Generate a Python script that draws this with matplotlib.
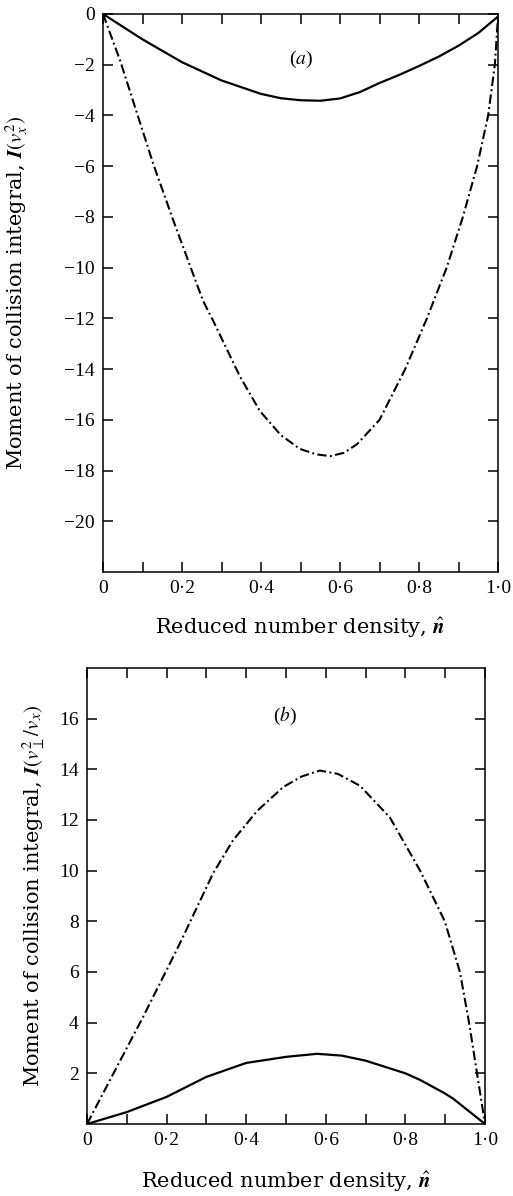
import matplotlib
matplotlib.use('Agg')
import matplotlib.pyplot as plt
from matplotlib.ticker import FixedLocator, FixedFormatter

plt.rcParams['font.family'] = ['Liberation Serif', 'DejaVu Serif']
plt.rcParams['mathtext.fontset'] = 'stix'

# (a) moment I(v_x^2) against reduced number density
a_solid_n = [0.0, 0.1, 0.2, 0.3, 0.4, 0.45, 0.5, 0.55, 0.6, 0.65, 0.7, 0.75, 0.8,
             0.85, 0.9, 0.95, 1.0]
a_solid = [0.0, -1.0, -1.9, -2.62, -3.15, -3.32, -3.4, -3.42, -3.33, -3.08, -2.72,
           -2.4, -2.05, -1.68, -1.25, -0.75, -0.1]
a_dash_n = [0.0, 0.043, 0.127, 0.178, 0.253, 0.279, 0.347, 0.397, 0.45, 0.499, 0.54,
            0.575, 0.61, 0.643, 0.70, 0.765, 0.82, 0.87, 0.911, 0.947, 0.975, 0.992, 1.0]
a_dash = [0.0, -1.82, -5.9, -8.14, -11.3, -12.1, -14.3, -15.65, -16.6, -17.15, -17.36,
          -17.43, -17.3, -16.96, -16.0, -14.0, -12.0, -10.0, -8.0, -6.0, -4.0, -2.0, -0.1]

# (b) moment I(v_perp^2 / v_x)
b_solid_n = [0.0, 0.1, 0.2, 0.3, 0.4, 0.5, 0.578, 0.64, 0.7, 0.8, 0.837, 0.9, 0.92, 1.0]
b_solid = [0.0, 0.47, 1.07, 1.86, 2.41, 2.65, 2.77, 2.7, 2.5, 2.0, 1.74, 1.2, 1.0, 0.0]
b_dash_n = [0.0, 0.058, 0.141, 0.209, 0.234, 0.317, 0.367, 0.427, 0.493, 0.54, 0.585,
            0.63, 0.686, 0.761, 0.837, 0.899, 0.937, 0.96, 0.98, 1.0]
b_dash = [0.0, 1.74, 4.23, 6.36, 7.15, 9.9, 11.2, 12.35, 13.3, 13.72, 13.95,
          13.82, 13.35, 12.1, 10.0, 8.0, 6.0, 4.0, 2.0, 0.0]

xticks = [0.0, 0.1, 0.2, 0.3, 0.4, 0.5, 0.6, 0.7, 0.8, 0.9, 1.0]
xlabels = ['0', '', '0·2', '', '0·4', '', '0·6', '', '0·8', '', '1·0']
a_yticks = [0, -2, -4, -6, -8, -10, -12, -14, -16, -18, -20]
a_ylabels = ['0', '−2', '−4', '−6', '−8', '−10', '−12', '−14', '−16', '−18', '−20']
b_yticks = [2, 4, 6, 8, 10, 12, 14, 16]
b_ylabels = ['2', '4', '6', '8', '10', '12', '14', '16']

dashdot = (0, (4.5, 1.6, 0.9, 1.6))
xlab = 'Reduced number density, $\\hat{\\boldsymbol{n}}$'

fig = plt.figure(figsize=(5.13, 11.96), dpi=100)
ax1 = fig.add_axes([0.2008, 0.5217, 0.770, 0.4666])
ax2 = fig.add_axes([0.1696, 0.0602, 0.7758, 0.3813])


def style(ax):
    for s in ax.spines.values():
        s.set_linewidth(1.1)
    ax.tick_params(direction='in', top=True, right=True, length=7, width=1.1,
                   labelsize=14, pad=6)
    ax.xaxis.set_major_locator(FixedLocator(xticks))
    ax.xaxis.set_major_formatter(FixedFormatter(xlabels))
    ax.set_xlim(0, 1.0)


ax1.plot(a_solid_n, a_solid, color='black', lw=1.6)
ax1.plot(a_dash_n, a_dash, color='black', lw=1.5, linestyle=dashdot)
style(ax1)
ax1.set_ylim(-22, 0)
ax1.yaxis.set_major_locator(FixedLocator(a_yticks))
ax1.yaxis.set_major_formatter(FixedFormatter(a_ylabels))
ax1.set_xlabel(xlab, fontsize=15, family='DejaVu Serif')
ax1.set_ylabel('Moment of collision integral, $\\boldsymbol{I}(v_x^2)$', fontsize=15,
               family='DejaVu Serif')
ax1.xaxis.set_label_coords(0.5, -0.079)
ax1.yaxis.set_label_coords(-0.185, 0.5)
ax1.text(0.5, -1.8, '($a$)', fontsize=14, ha='center', va='center')

ax2.plot(b_solid_n, b_solid, color='black', lw=1.6)
ax2.plot(b_dash_n, b_dash, color='black', lw=1.5, linestyle=dashdot)
style(ax2)
ax2.set_ylim(0, 18)
ax2.yaxis.set_major_locator(FixedLocator(b_yticks))
ax2.yaxis.set_major_formatter(FixedFormatter(b_ylabels))
ax2.set_xlabel(xlab, fontsize=15, family='DejaVu Serif')
ax2.set_ylabel('Moment of collision integral, $\\boldsymbol{I}(v_\\perp^2/v_x)$', fontsize=15,
               family='DejaVu Serif')
ax2.xaxis.set_label_coords(0.5, -0.101)
ax2.yaxis.set_label_coords(-0.10, 0.5)
ax2.text(0.497, 16.1, '($b$)', fontsize=14, ha='center', va='center')

fig.savefig('out.png', dpi=100)
